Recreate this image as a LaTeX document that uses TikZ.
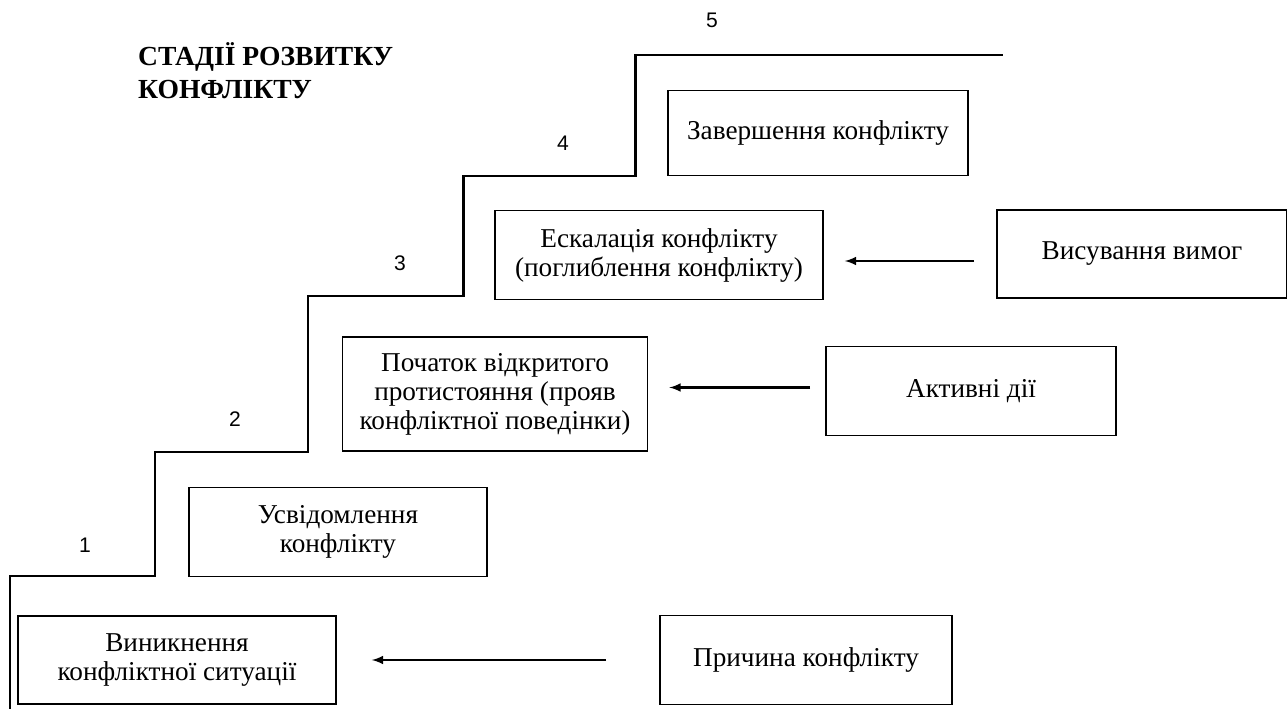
\documentclass[tikz,border=0pt]{standalone}
\usepackage{fontspec}
\setmainfont{Liberation Serif}
\newfontfamily\numfont{Liberation Sans}
\usetikzlibrary{arrows}
\tikzset{
  stagebox/.style={draw,line width=1pt,align=center,inner sep=2pt,font=\fontsize{15.5}{16.5}\selectfont},
  stairline/.style={line width=1.7pt},
  stagenum/.style={font=\numfont\fontsize{12}{14}\selectfont},
  pusharrow/.style={-latex,line width=1.2pt}
}
\begin{document}
\begin{tikzpicture}[x=0.02cm,y=-0.02cm]
    \useasboundingbox (0,0) rectangle (1287,709);
    % title
    \node[anchor=north west,align=left,font=\bfseries\fontsize{15.7}{18.7}\selectfont] (title) at (132,36) {СТАДІЇ РОЗВИТКУ\\КОНФЛІКТУ};
    % staircase
    \draw[stairline] (10,709) -- (10,576) -- (155,576) -- (155,452) -- (308,452) -- (308,296) -- (463,296) -- (463,176) -- (635,176) -- (635,55) -- (1003,55);
    \node[stagenum] (n1) at (85,545) {1};
    \node[stagenum] (n2) at (235,419) {2};
    \node[stagenum] (n3) at (400,263) {3};
    \node[stagenum] (n4) at (563,143) {4};
    \node[stagenum] (n5) at (712,20) {5};
    % stages
    \node[stagebox,minimum width=6.36cm,minimum height=1.76cm] (arising) at (177,660) {Виникнення\\конфліктної ситуації};
    \node[stagebox,minimum width=5.96cm,minimum height=1.78cm] (aware) at (338,532) {Усвідомлення\\конфлікту};
    \node[stagebox,minimum width=6.1cm,minimum height=2.28cm] (opening) at (495,394) {Початок відкритого\\протистояння (прояв\\конфліктної поведінки)};
    \node[stagebox,minimum width=6.56cm,minimum height=1.78cm] (escal) at (659,255) {Ескалація конфлікту\\(поглиблення конфлікту)};
    \node[stagebox,minimum width=6cm,minimum height=1.7cm] (ending) at (818,133) {Завершення конфлікту};
    % factors
    \node[stagebox,minimum width=5.8cm,minimum height=1.76cm] (demands) at (1142,254) {Висування вимог};
    \node[stagebox,minimum width=5.8cm,minimum height=1.78cm] (active) at (971,391) {Активні дії};
    \node[stagebox,minimum width=5.84cm,minimum height=1.78cm] (cause) at (806,660) {Причина конфлікту};
    % arrows
    \draw[pusharrow] ([xshift=-1.06cm]cause.west) -- ([xshift=0.7cm]cause.west -| arising.east);
    \draw[pusharrow] ([xshift=-0.3cm,yshift=0.07cm]active.west) -- ([xshift=0.42cm,yshift=0.07cm]active.west -| opening.east);
    \draw[pusharrow] ([xshift=-0.44cm,yshift=-0.14cm]demands.west) -- ([xshift=0.42cm,yshift=-0.14cm]demands.west -| escal.east);
\end{tikzpicture}
\end{document}
